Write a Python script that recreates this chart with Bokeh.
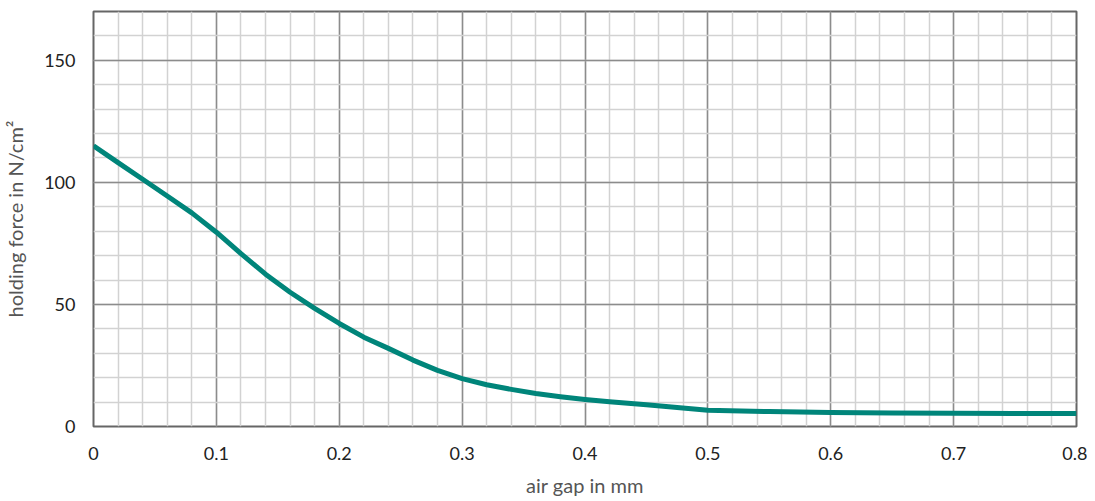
from bokeh.plotting import figure
from bokeh.models import SingleIntervalTicker, CustomJSTickFormatter, Range1d
from bokeh.embed import file_html
from bokeh.resources import INLINE

# Data
air_gap_mm = [0.0, 0.02, 0.04, 0.06, 0.08, 0.10, 0.12, 0.14, 0.16, 0.18, 0.20,
              0.22, 0.24, 0.26, 0.28, 0.30, 0.32, 0.34, 0.36, 0.38, 0.40, 0.42,
              0.45, 0.50, 0.55, 0.60, 0.65, 0.70, 0.75, 0.80]
holding_force = [115.0, 108.1, 101.3, 94.4, 87.5, 79.6, 70.8, 62.4, 55.0, 48.4, 42.2,
                 36.6, 32.0, 27.2, 23.0, 19.6, 17.1, 15.2, 13.5, 12.2, 11.1, 10.1,
                 8.9, 6.7, 6.1, 5.7, 5.5, 5.4, 5.3, 5.3]

x_label = "air gap in mm"
y_label = "holding force in N/cm²"

FONT = "Lato"

p = figure(width=1087, height=499, output_backend="svg", toolbar_location=None,
           x_range=Range1d(0, 0.8), y_range=Range1d(0, 170),
           min_border_left=93, min_border_right=11, min_border_top=11,
           min_border_bottom=66)

p.xaxis.ticker = SingleIntervalTicker(interval=0.1, num_minor_ticks=5)
p.yaxis.ticker = SingleIntervalTicker(interval=50, num_minor_ticks=5)
p.xaxis.formatter = CustomJSTickFormatter(code="return tick.toFixed(1).replace(/\\.0$/, '');")

for ax in (p.xaxis[0], p.yaxis[0]):
    ax.axis_line_color = None
    ax.major_tick_line_color = None
    ax.minor_tick_line_color = None
    ax.major_label_text_font = FONT
    ax.major_label_text_font_size = "18px"
    ax.major_label_text_color = "#222222"
    ax.axis_label_text_font = FONT
    ax.axis_label_text_font_size = "20px"
    ax.axis_label_text_font_style = "normal"
    ax.axis_label_text_color = "#555555"

p.xaxis.axis_label = x_label
p.yaxis.axis_label = y_label
p.xaxis.major_label_standoff = 14
p.xaxis.axis_label_standoff = 10
p.yaxis.major_label_standoff = 12
p.yaxis.axis_label_standoff = 14

p.xgrid.grid_line_color = "#8c8c8c"
p.ygrid.grid_line_color = "#8c8c8c"
p.xgrid.grid_line_width = 1.5
p.ygrid.grid_line_width = 1.5
p.xgrid.minor_grid_line_color = "#d2d2d2"
p.ygrid.minor_grid_line_color = "#d2d2d2"
p.xgrid.minor_grid_line_width = 1.5
p.ygrid.minor_grid_line_width = 1.5
p.xgrid.level = "underlay"
p.ygrid.level = "underlay"

p.outline_line_color = "#666666"
p.outline_line_width = 2
p.outline_line_alpha = 1

p.line(air_gap_mm, holding_force, line_color="#00857A", line_width=5,
       line_join="round")

open("out.html", "w").write(file_html(p, INLINE))
